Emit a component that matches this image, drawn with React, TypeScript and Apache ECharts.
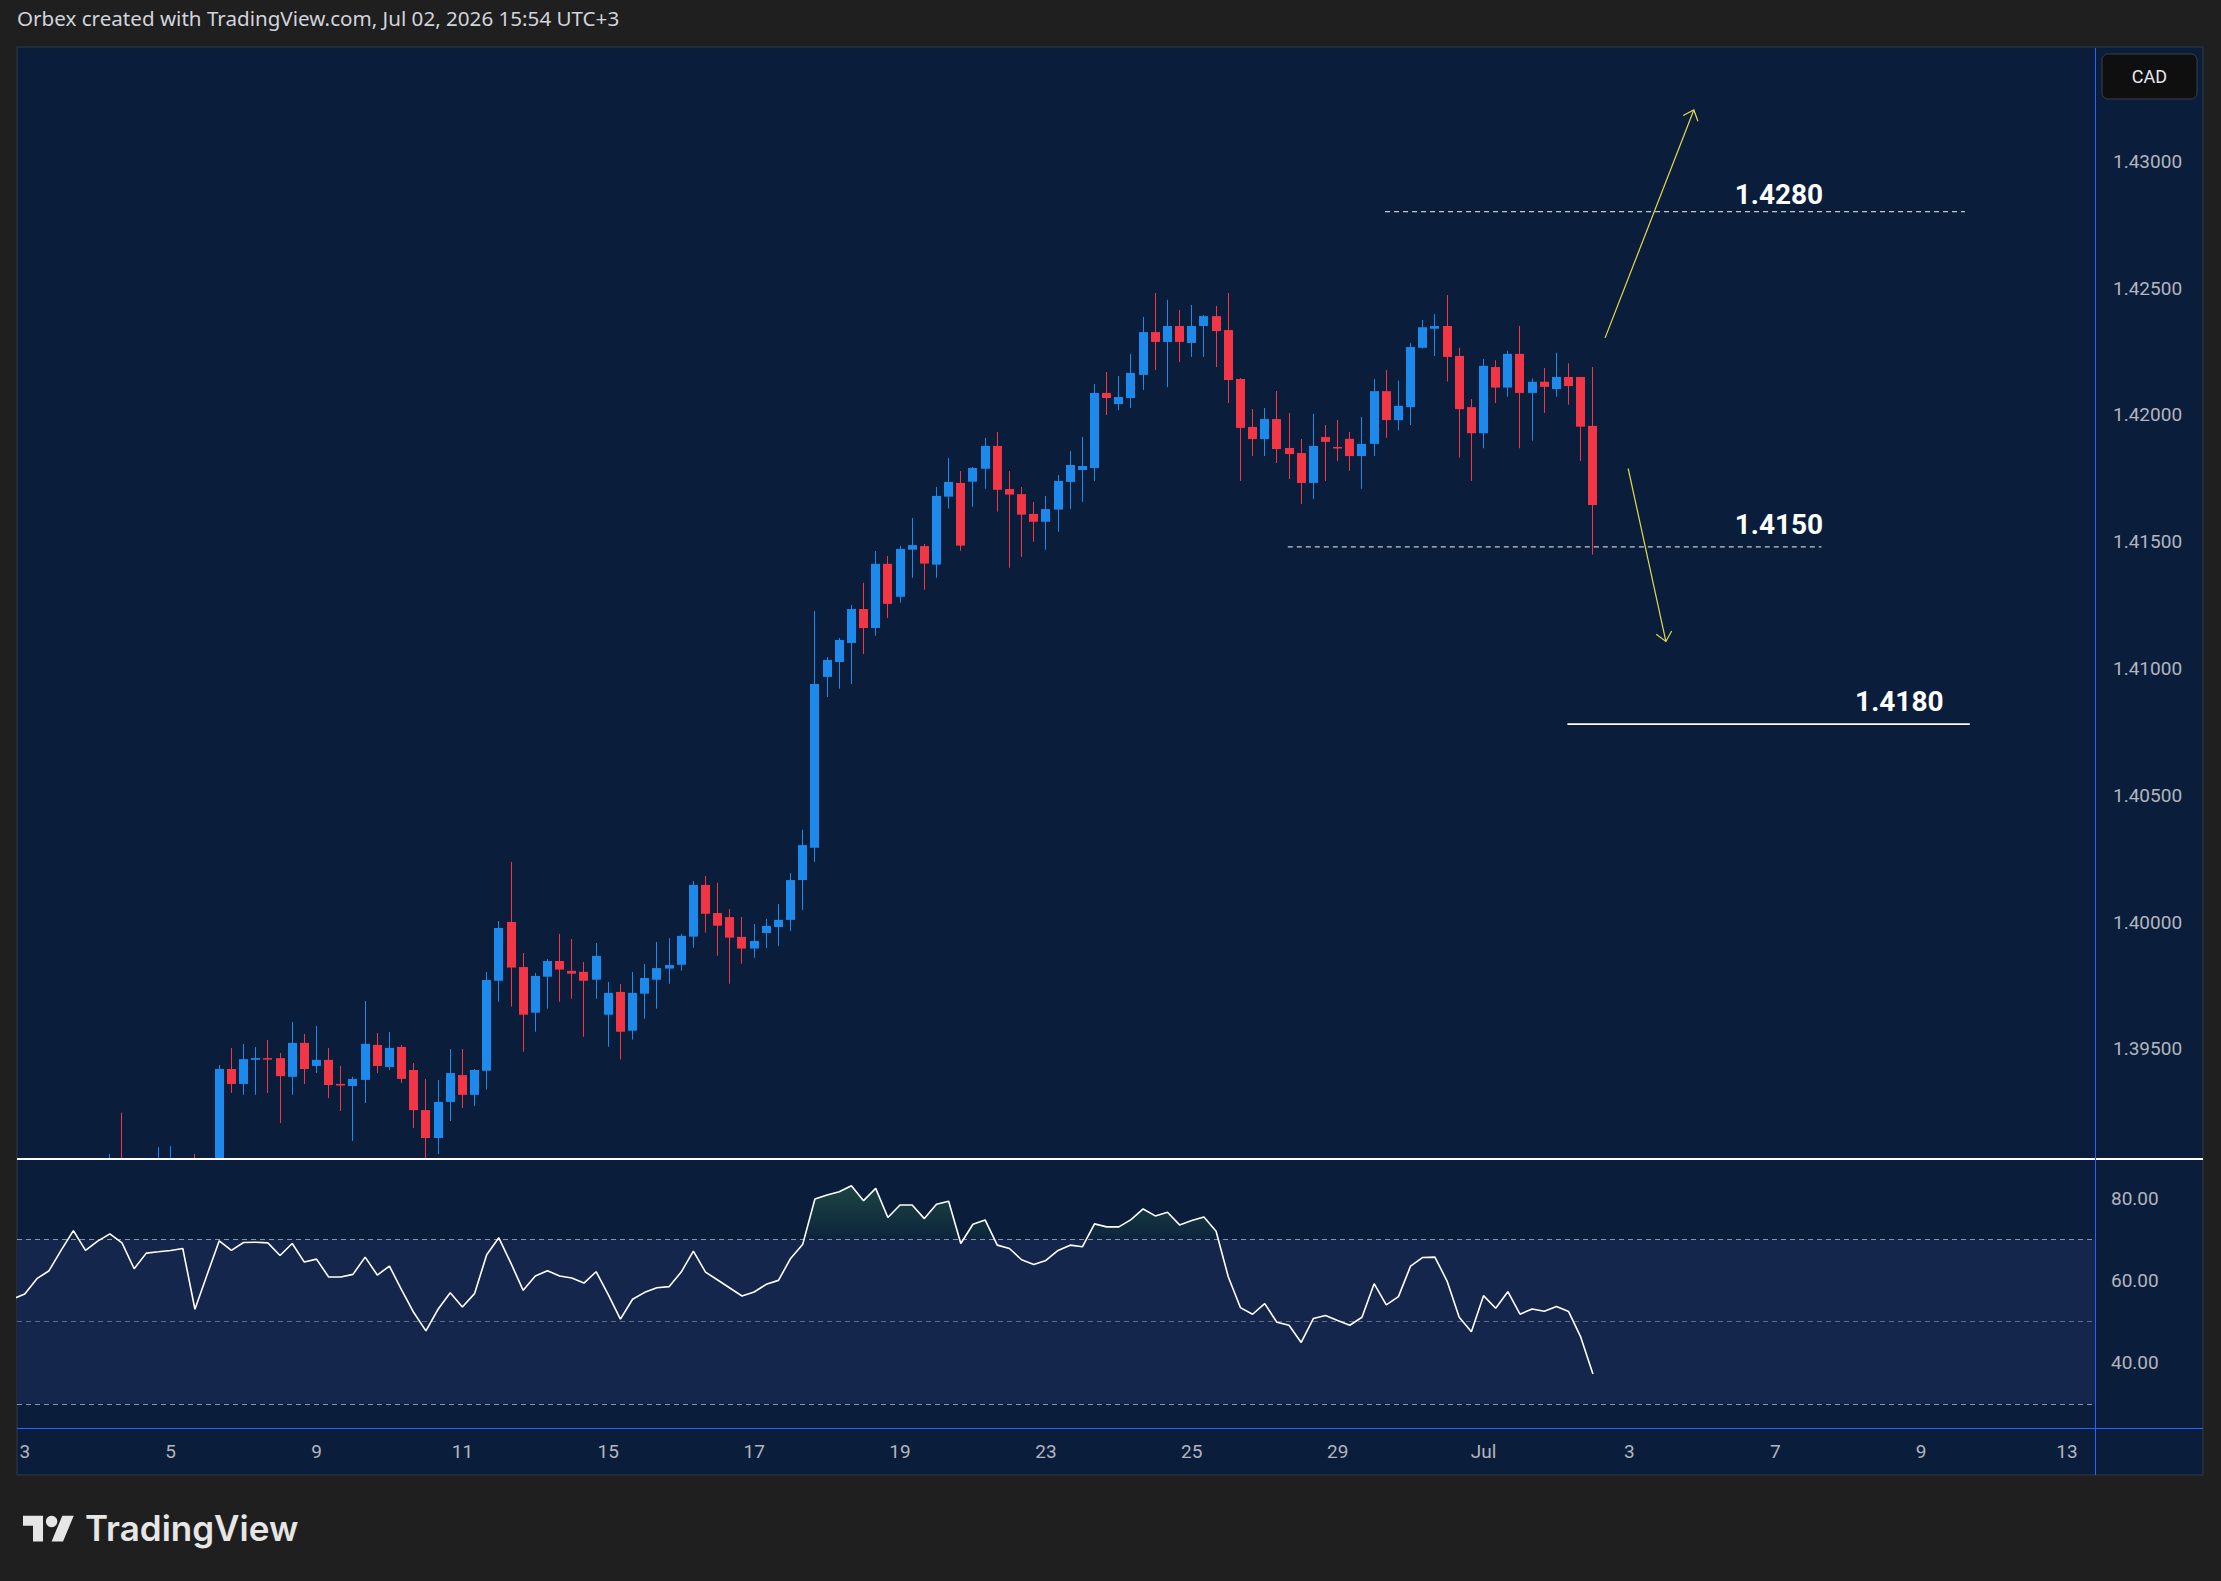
import React, { useEffect, useRef } from 'react';
import * as echarts from 'echarts';

// ---------------- DATA ----------------
// 4h candles, index = bar number counted from Jun 3 00:00 (6 bars per trading day)
const candleFirstIdx = 7;
const candleOpen = [
  1.3898, 1.3903, 1.3899, 1.3901, 1.3898, 1.3903, 1.3904, 1.3901, 1.3898, 1.3896,
  1.39421, 1.39362, 1.39457, 1.39464, 1.39464, 1.39390, 1.39524, 1.39433, 1.39457, 1.39362,
  1.39354, 1.39378, 1.39516, 1.39429, 1.39508, 1.39417, 1.39259, 1.39149, 1.39291, 1.39397,
  1.39319, 1.39414, 1.39769, 1.40001, 1.39823, 1.39643, 1.39785, 1.39847, 1.39808, 1.39804,
  1.39773, 1.39635, 1.39725, 1.39572, 1.39718, 1.39773, 1.39817, 1.39832, 1.39943, 1.40147,
  1.40036, 1.40020, 1.39942, 1.39896, 1.39957, 1.39981, 1.40009, 1.40166, 1.40293, 1.40967,
  1.41026, 1.41101, 1.41235, 1.41160, 1.41413, 1.41283, 1.41469, 1.41483, 1.41410, 1.41678,
  1.41732, 1.41737, 1.41788, 1.41878, 1.41708, 1.41688, 1.41610, 1.41579, 1.41627, 1.41736,
  1.41783, 1.41791, 1.42087, 1.42043, 1.42067, 1.42158, 1.42327, 1.42288, 1.42351, 1.42284,
  1.42351, 1.42390, 1.42335, 1.42142, 1.41953, 1.41905, 1.41984, 1.41870, 1.41850, 1.41732,
  1.41913, 1.41874, 1.41906, 1.41838, 1.41886, 1.42094, 1.41980, 1.42031, 1.42265, 1.42340,
  1.42351, 1.42233, 1.42031, 1.41928, 1.42189, 1.42108, 1.42241, 1.42087, 1.42131, 1.42102,
  1.42150, 1.42150, 1.41957,
];
const candleClose = [
  1.3902, 1.3899, 1.3901, 1.3898, 1.3903, 1.3904, 1.3901, 1.3898, 1.3896, 1.39421,
  1.39362, 1.39460, 1.39464, 1.39458, 1.39393, 1.39524, 1.39421, 1.39457, 1.39358, 1.39358,
  1.39382, 1.39520, 1.39433, 1.39504, 1.39382, 1.39259, 1.39149, 1.39291, 1.39405, 1.39319,
  1.39417, 1.39772, 1.39977, 1.39821, 1.39635, 1.39788, 1.39847, 1.39813, 1.39797, 1.39769,
  1.39867, 1.39721, 1.39568, 1.39721, 1.39780, 1.39819, 1.39831, 1.39946, 1.40147, 1.40033,
  1.39986, 1.39939, 1.39896, 1.39926, 1.39985, 1.40009, 1.40166, 1.40304, 1.40939, 1.41034,
  1.41113, 1.41235, 1.41160, 1.41413, 1.41255, 1.41472, 1.41487, 1.41414, 1.41681, 1.41736,
  1.41485, 1.41791, 1.41878, 1.41705, 1.41686, 1.41607, 1.41579, 1.41629, 1.41740, 1.41803,
  1.41799, 1.42087, 1.42067, 1.42071, 1.42166, 1.42327, 1.42288, 1.42351, 1.42288, 1.42351,
  1.42390, 1.42331, 1.42138, 1.41949, 1.41905, 1.41984, 1.41866, 1.41846, 1.41732, 1.41878,
  1.41894, 1.41868, 1.41838, 1.41886, 1.42094, 1.41980, 1.42036, 1.42268, 1.42346, 1.42351,
  1.42229, 1.42023, 1.41928, 1.42194, 1.42108, 1.42241, 1.42087, 1.42131, 1.42111, 1.42150,
  1.42114, 1.41954, 1.41645,
];
const candleLow = [
  1.3893, 1.3894, 1.3895, 1.3893, 1.3896, 1.3899, 1.3897, 1.3894, 1.3892, 1.3894,
  1.39326, 1.39319, 1.39319, 1.39326, 1.39208, 1.39319, 1.39362, 1.39405, 1.39307, 1.39255,
  1.39137, 1.39287, 1.39405, 1.39417, 1.39366, 1.39188, 1.3905, 1.39086, 1.39216, 1.39267,
  1.39275, 1.3934, 1.39686, 1.39667, 1.39489, 1.39568, 1.39659, 1.39686, 1.39698, 1.39548,
  1.39698, 1.39509, 1.39458, 1.39537, 1.39619, 1.39659, 1.39757, 1.39809, 1.39899, 1.39959,
  1.39868, 1.39757, 1.39836, 1.39860, 1.39898, 1.39906, 1.39965, 1.40048, 1.40237, 1.40888,
  1.40920, 1.40939, 1.41058, 1.41129, 1.41199, 1.41260, 1.41358, 1.41311, 1.41358, 1.41631,
  1.41465, 1.41638, 1.41709, 1.41619, 1.41398, 1.41441, 1.41500, 1.41469, 1.41540, 1.41629,
  1.41657, 1.41740, 1.42000, 1.42020, 1.42028, 1.42099, 1.42177, 1.42110, 1.42209, 1.42229,
  1.42229, 1.42189, 1.42047, 1.41740, 1.41838, 1.41838, 1.41811, 1.41748, 1.41649, 1.41669,
  1.41740, 1.41819, 1.41780, 1.41709, 1.41838, 1.41910, 1.41940, 1.41961, 1.42262, 1.42233,
  1.42132, 1.41832, 1.41740, 1.41869, 1.42047, 1.42072, 1.41869, 1.41898, 1.42008, 1.42072,
  1.42041, 1.41819, 1.41450,
];
const candleHigh = [
  1.39086, 1.39248, 1.3904, 1.3905, 1.39113, 1.39117, 1.3905, 1.39086, 1.3903, 1.39437,
  1.39504, 1.39520, 1.39508, 1.39535, 1.39484, 1.39606, 1.39559, 1.39591, 1.39504, 1.39433,
  1.39390, 1.39689, 1.39563, 1.39567, 1.39516, 1.39445, 1.39382, 1.39378, 1.39500, 1.39500,
  1.39421, 1.39804, 1.40005, 1.40237, 1.39878, 1.39800, 1.39855, 1.39953, 1.39934, 1.39843,
  1.39918, 1.39764, 1.39756, 1.39804, 1.39835, 1.39922, 1.39938, 1.39953, 1.40162, 1.40182,
  1.40155, 1.40052, 1.40020, 1.39993, 1.40013, 1.40072, 1.40194, 1.40364, 1.41227, 1.41046,
  1.41121, 1.41251, 1.41338, 1.41464, 1.41444, 1.41483, 1.41594, 1.41491, 1.41716, 1.41830,
  1.41779, 1.41795, 1.41909, 1.41933, 1.41779, 1.41716, 1.41657, 1.41681, 1.41763, 1.41858,
  1.41913, 1.42122, 1.42170, 1.42154, 1.42241, 1.42386, 1.42481, 1.42454, 1.42414, 1.42434,
  1.42394, 1.42430, 1.42481, 1.42146, 1.42024, 1.42028, 1.42095, 1.42008, 1.41905, 1.42004,
  1.41961, 1.41980, 1.41933, 1.41992, 1.42142, 1.42177, 1.42136, 1.42283, 1.42375, 1.42398,
  1.42473, 1.42265, 1.42063, 1.42221, 1.42216, 1.42253, 1.42351, 1.42144, 1.42185, 1.42245,
  1.42204, 1.42150, 1.42189,
];

// RSI(14), first value at bar index -1
const rsiFirstIdx = -1;
const rsiValues = [
  55.5,
  56.74, 60.46, 62.40, 67.41, 72.17, 67.33, 69.59, 71.36, 69.18, 62.88,
  66.68, 67.00, 67.33, 67.81, 53.02, 61.43, 69.67, 67.33, 69.26, 69.34,
  69.18, 66.11, 69.02, 64.50, 65.22, 60.86, 60.86, 61.51, 65.71, 61.35,
  63.53, 57.71, 52.22, 47.77, 53.02, 57.06, 53.59, 56.82, 66.27, 70.40,
  64.17, 57.63, 61.10, 62.40, 61.10, 60.62, 59.40, 62.15, 56.57, 50.60,
  55.45, 57.14, 58.27, 58.52, 62.07, 67.16, 62.07, 60.13, 58.19, 56.25,
  57.22, 59.08, 60.05, 65.38, 68.86, 79.85, 80.82, 81.63, 83.08, 79.45,
  82.44, 75.33, 78.40, 78.40, 75.08, 78.56, 79.28, 69.02, 73.71, 74.76,
  68.62, 67.81, 65.06, 63.93, 64.90, 67.33, 68.62, 68.21, 73.79, 73.06,
  73.06, 74.84, 77.42, 75.73, 76.62, 73.55, 74.60, 75.48, 72.01, 60.94,
  53.43, 51.81, 54.40, 49.87, 49.14, 44.94, 50.76, 51.49, 50.27, 49.14,
  51.08, 59.24, 54.07, 56.09, 63.53, 65.63, 65.71, 59.89, 51.08, 47.53,
  56.33, 53.26, 57.30, 51.81, 53.10, 52.54, 53.67, 52.46, 46.23, 37.26,
];

const timeTickIdx = [0, 12, 24, 36, 48, 60, 72, 84, 96, 108, 120, 132, 144, 156, 168];
const timeTickLabels = ['3', '5', '9', '11', '15', '17', '19', '23', '25', '29', 'Jul', '3', '7', '9', '13'];
const priceTicks = [1.395, 1.4, 1.405, 1.41, 1.415, 1.42, 1.425, 1.43];
const rsiTicks = [40, 60, 80];
const rsiLevels = [70, 50, 30];

// Drawn levels (price, bar range, label)
const levelNames = ['1.4280', '1.4150', '1.4180'];
const levelPrices = [1.42802, 1.41480, 1.40781];
const levelStartIdx = [111.9, 103.9, 126.9];
const levelEndIdx = [159.6, 147.8, 160.0];
const levelDashed = [true, true, false];
const levelLabelIdx = [144.3, 144.3, 154.2];
const levelLabelPrices = [1.42871, 1.41570, 1.40872];

// Drawn arrows (from bar/price to bar/price)
const arrowFromIdx = [130.0, 131.9];
const arrowFromPrice = [1.42304, 1.41789];
const arrowToIdx = [137.3, 135.0];
const arrowToPrice = [1.43203, 1.41107];

// ---------------- STYLE ----------------
const PAGE_BG = '#1f1f1f';
const NAVY = '#0a1e3c';
const BAND = '#15264d';
const UP = '#1c89eb';
const DOWN = '#f23645';
const AXIS_TEXT = '#b2b5be';
const FRAME_BLUE = '#2962ff';
const YELLOW = '#e6d84c';
const FONT = "Roboto, 'Noto Sans', sans-serif";

const X_MIN = -0.637;
const X_MAX = 170.3;
const P_MIN = 1.390661;
const P_MAX = 1.434472;
const R_MIN = 24.13;
const R_MAX = 89.58;

const TV_LOGO_PATH = 'M14 22H7V11H0V4h14v18zM28 22h-8l7.5-18h8L28 22z';

export default function App() {
  const ref = useRef<HTMLDivElement>(null);

  useEffect(() => {
    document.body.style.margin = '0';
    document.body.style.background = PAGE_BG;
    try {
      echarts.graphic.registerShape('tvlogo', echarts.graphic.extendPath(TV_LOGO_PATH, {}));
    } catch (e) {}
    const chart = echarts.init(ref.current as HTMLDivElement, null, { renderer: 'svg' });

    const candleData = candleOpen.map((o, i) => [
      candleFirstIdx + i, o, candleClose[i], candleLow[i], candleHigh[i],
    ]);
    const rsiData = rsiValues.map((v, i) => [rsiFirstIdx + i, v]);
    const levelRows = levelPrices.map((p, i) => [
      levelStartIdx[i], p, levelEndIdx[i], levelLabelIdx[i], levelLabelPrices[i],
    ]);
    const arrowRows = arrowFromIdx.map((x, i) => [x, arrowFromPrice[i], arrowToIdx[i], arrowToPrice[i]]);

    const dashStyle = (level: number) => ({
      color: level === 50 ? 'rgba(120,130,150,0.75)' : 'rgba(160,168,185,0.85)',
      type: [5, 4],
      width: 1,
    });

    const option: any = {
      animation: false,
      backgroundColor: PAGE_BG,
      textStyle: { fontFamily: FONT },
      grid: [
        { left: 17, top: 48, width: 2078, height: 1111 },
        { left: 17, top: 1159, width: 2078, height: 269 },
        { left: 17, top: 1159, width: 2078, height: 80.5 },
      ],
      xAxis: [
        { type: 'value', gridIndex: 0, min: X_MIN, max: X_MAX, show: false },
        {
          type: 'value', gridIndex: 1, min: X_MIN, max: X_MAX,
          axisLine: { show: false }, axisTick: { show: false }, splitLine: { show: false },
          axisLabel: {
            customValues: timeTickIdx,
            formatter: (v: number) => {
              const j = timeTickIdx.indexOf(Math.round(v));
              return j >= 0 ? timeTickLabels[j] : '';
            },
            color: AXIS_TEXT, fontSize: 19, fontFamily: FONT, margin: 14,
          },
        },
        { type: 'value', gridIndex: 2, min: X_MIN, max: X_MAX, show: false },
      ],
      yAxis: [
        {
          type: 'value', gridIndex: 0, position: 'right', min: P_MIN, max: P_MAX,
          axisLine: { show: false }, axisTick: { show: false }, splitLine: { show: false },
          axisLabel: {
            customValues: priceTicks,
            formatter: (v: number) => v.toFixed(5),
            color: AXIS_TEXT, fontSize: 19, fontFamily: FONT, margin: 18,
          },
        },
        {
          type: 'value', gridIndex: 1, position: 'right', min: R_MIN, max: R_MAX,
          axisLine: { show: false }, axisTick: { show: false }, splitLine: { show: false },
          axisLabel: {
            customValues: rsiTicks,
            formatter: (v: number) => v.toFixed(2),
            color: AXIS_TEXT, fontSize: 19, fontFamily: FONT, margin: 16,
          },
        },
        { type: 'value', gridIndex: 2, min: 70, max: R_MAX, show: false },
      ],
      series: [
        {
          // candlesticks, drawn through the axes and clipped to the price pane
          type: 'custom',
          xAxisIndex: 0, yAxisIndex: 0,
          data: candleData,
          clip: true,
          silent: true,
          z: 2,
          renderItem: (params: any, api: any) => {
            const k = api.value(0);
            const o = api.value(1);
            const c = api.value(2);
            const l = api.value(3);
            const h = api.value(4);
            const cs = params.coordSys;
            const top = cs.y;
            const bottom = cs.y + cs.height;
            const clampY = (y: number) => Math.max(top, Math.min(bottom, y));
            const po = api.coord([k, o]);
            const pc = api.coord([k, c]);
            const yl = api.coord([k, l])[1];
            const yh = api.coord([k, h])[1];
            const col = c >= o ? UP : DOWN;
            const xc = Math.floor(po[0]);
            const children: any[] = [];
            const wTop = clampY(yh);
            const wBot = clampY(yl);
            if (wBot > wTop) {
              children.push({
                type: 'rect',
                shape: { x: xc, y: wTop, width: 1, height: wBot - wTop },
                style: { fill: col },
              });
            }
            let bTop = Math.min(po[1], pc[1]);
            let bBot = Math.max(po[1], pc[1]);
            if (bBot - bTop < 1.5) bBot = bTop + 1.5;
            const cTop = clampY(bTop);
            const cBot = clampY(bBot);
            if (cBot > cTop) {
              children.push({
                type: 'rect',
                shape: { x: xc - 4, y: cTop, width: 9, height: cBot - cTop },
                style: { fill: col },
              });
            }
            return { type: 'group', children };
          },
        },
        {
          type: 'line',
          xAxisIndex: 2, yAxisIndex: 2,
          data: rsiData,
          symbol: 'none',
          silent: true,
          lineStyle: { opacity: 0, width: 0 },
          areaStyle: {
            origin: 'start',
            color: new echarts.graphic.LinearGradient(0, 1175, 0, 1240, [
              { offset: 0, color: 'rgba(60,135,75,0.6)' },
              { offset: 1, color: 'rgba(60,135,75,0.08)' },
            ], true),
          },
          z: 1.2,
        },
        {
          type: 'line',
          xAxisIndex: 1, yAxisIndex: 1,
          data: rsiData,
          symbol: 'none',
          lineStyle: { color: '#ffffff', width: 1.6 },
          z: 2,
          markArea: {
            silent: true,
            z: 1,
            itemStyle: { color: BAND },
            data: [[{ yAxis: 30 }, { yAxis: 70 }]],
          },
          markLine: {
            silent: true,
            z: 1.5,
            symbol: ['none', 'none'],
            label: { show: false },
            data: rsiLevels.map((lv) => ({ yAxis: lv, lineStyle: dashStyle(lv) })),
          },
        },
        {
          type: 'custom',
          xAxisIndex: 0, yAxisIndex: 0,
          data: levelRows,
          silent: true,
          z: 4,
          renderItem: (params: any, api: any) => {
            const i = params.dataIndex;
            const a = api.coord([api.value(0), api.value(1)]);
            const b = api.coord([api.value(2), api.value(1)]);
            const t = api.coord([api.value(3), api.value(4)]);
            const dashed = levelDashed[i];
            return {
              type: 'group',
              children: [
                {
                  type: 'line',
                  shape: { x1: a[0], y1: a[1], x2: b[0], y2: b[1] },
                  style: dashed
                    ? { stroke: '#c3c6ce', lineWidth: 1.3, lineDash: [5, 4] }
                    : { stroke: '#ffffff', lineWidth: 1.6 },
                },
                {
                  type: 'text',
                  x: t[0], y: t[1],
                  style: {
                    text: levelNames[i], fill: '#ffffff', fontSize: 28, fontWeight: 'bold',
                    fontFamily: FONT, align: 'center', verticalAlign: 'middle',
                  },
                },
              ],
            };
          },
        },
        {
          type: 'custom',
          xAxisIndex: 0, yAxisIndex: 0,
          data: arrowRows,
          silent: true,
          z: 4,
          renderItem: (params: any, api: any) => {
            const a = api.coord([api.value(0), api.value(1)]);
            const b = api.coord([api.value(2), api.value(3)]);
            const dx = b[0] - a[0];
            const dy = b[1] - a[1];
            const len = Math.hypot(dx, dy) || 1;
            const ux = -dx / len;
            const uy = -dy / len;
            const head = 12;
            const ang = 0.72;
            const c = Math.cos(ang);
            const s = Math.sin(ang);
            const h1 = [b[0] + head * (ux * c - uy * s), b[1] + head * (ux * s + uy * c)];
            const h2 = [b[0] + head * (ux * c + uy * s), b[1] + head * (-ux * s + uy * c)];
            const st = { stroke: YELLOW, lineWidth: 1.2, fill: null };
            return {
              type: 'group',
              children: [
                { type: 'line', shape: { x1: a[0], y1: a[1], x2: b[0], y2: b[1] }, style: st },
                { type: 'polyline', shape: { points: [h1, b, h2] }, style: st },
              ],
            };
          },
        },
      ],
      graphic: [
        {
          type: 'rect', z: -10, silent: true,
          shape: { x: 17, y: 47, width: 2186, height: 1428 },
          style: { fill: NAVY, stroke: '#343843', lineWidth: 1 },
        },
        {
          type: 'line', z: 10, silent: true,
          shape: { x1: 17, y1: 1159, x2: 2203, y2: 1159 },
          style: { stroke: '#ffffff', lineWidth: 2 },
        },
        {
          type: 'line', z: 10, silent: true,
          shape: { x1: 2095.5, y1: 48, x2: 2095.5, y2: 1475 },
          style: { stroke: FRAME_BLUE, lineWidth: 1 },
        },
        {
          type: 'line', z: 10, silent: true,
          shape: { x1: 17, y1: 1428.5, x2: 2203, y2: 1428.5 },
          style: { stroke: FRAME_BLUE, lineWidth: 1 },
        },
        {
          type: 'rect', z: 10, silent: true,
          shape: { x: 2102, y: 54, width: 95, height: 45, r: 6 },
          style: { fill: '#0f0f10', stroke: '#3a3e48', lineWidth: 1 },
        },
        {
          type: 'text', z: 11, silent: true, x: 2149.5, y: 76.5,
          style: {
            text: 'CAD', fill: '#e6e8ee', fontSize: 18, fontFamily: FONT,
            align: 'center', verticalAlign: 'middle',
          },
        },
        {
          type: 'text', z: 11, silent: true, x: 17, y: 18,
          style: {
            text: 'Orbex created with TradingView.com, Jul 02, 2026 15:54 UTC+3',
            fill: '#d1d4dc', fontSize: 20.6, fontFamily: "'Noto Sans', Roboto, sans-serif",
            verticalAlign: 'middle',
          },
        },
        {
          type: 'tvlogo', z: 11, silent: true, x: 23, y: 1510, scaleX: 1.43, scaleY: 1.43,
          style: { fill: '#e6e6e6' },
        },
        {
          type: 'circle', z: 11, silent: true,
          shape: { cx: 23 + 20 * 1.43, cy: 1510 + 8 * 1.43, r: 4 * 1.43 },
          style: { fill: '#e6e6e6' },
        },
        {
          type: 'text', z: 11, silent: true, x: 85, y: 1528,
          style: {
            text: 'TradingView', fill: '#e6e6e6', fontSize: 35, fontWeight: 600,
            fontFamily: "Inter, Roboto, sans-serif", verticalAlign: 'middle',
          },
        },
      ],
    };

    chart.setOption(option);
    return () => chart.dispose();
  }, []);

  return <div ref={ref} style={{ width: 2221, height: 1581 }} />;
}
